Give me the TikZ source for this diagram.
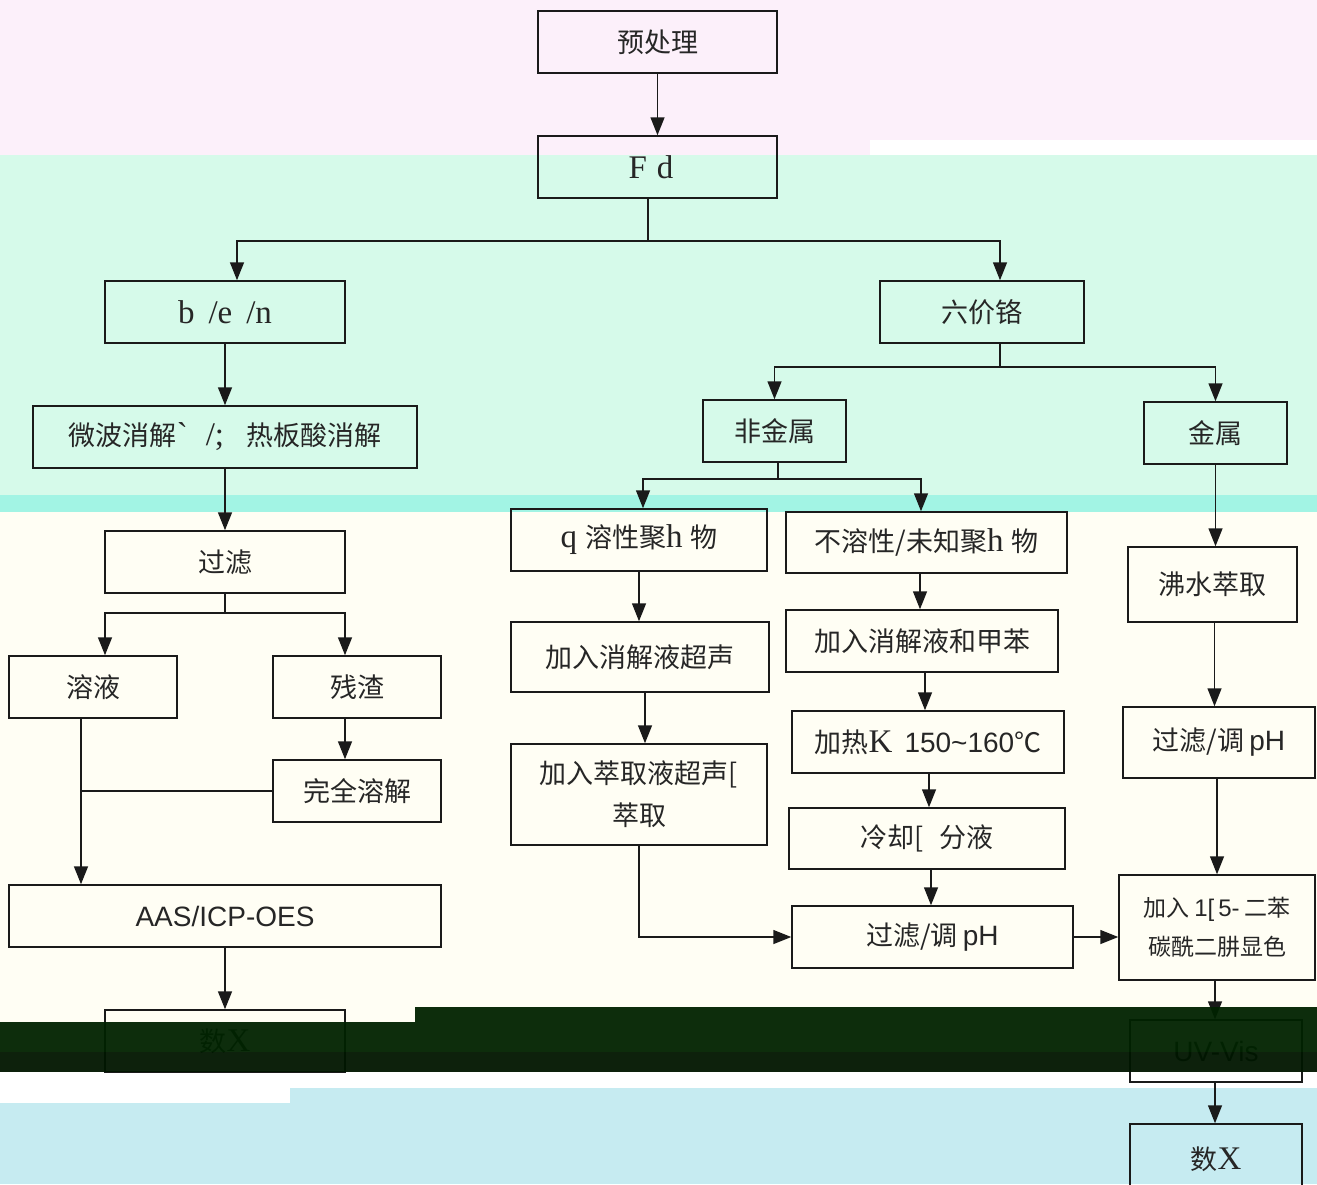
\documentclass[tikz,border=0pt]{standalone}
\usepackage{fontspec}
\setmainfont{Noto Sans CJK SC}
\newfontfamily\tm{Liberation Serif}
\newfontfamily\ar{Liberation Sans}
\newcommand\tmb{\tm\fontsize{33}{42}\selectfont}
\newcommand\arb{\ar\fontsize{28}{42}\selectfont}
\usetikzlibrary{arrows.meta,calc}
\definecolor{linec}{HTML}{1A1A1A}
\definecolor{txtc}{HTML}{262626}
\definecolor{pinkbg}{HTML}{FCF0FA}
\definecolor{mintbg}{HTML}{D6FAEA}
\definecolor{cyanbg}{HTML}{A2F4E4}
\definecolor{creambg}{HTML}{FFFEF4}
\definecolor{bluebg}{HTML}{C6EBF1}
\definecolor{darkbg}{HTML}{002200}
\definecolor{darkbgb}{HTML}{001600}
\begin{document}
\begin{tikzpicture}[x=1pt,y=-1pt,
  box/.style={draw=linec, line width=1.5pt, inner sep=0pt, text=txtc,
    font=\fontsize{27}{42}\selectfont, align=center},
  ln/.style={draw=linec, line width=1.5pt},
  arr/.style={draw=linec, line width=1.5pt, -{Triangle[length=18pt,width=14pt]}}]
\useasboundingbox (0,0) rectangle (1317,1184);
% background bands
\fill[pinkbg] (0,0) rectangle (1317,155);
\fill[white] (870,140) rectangle (1317,155);
\fill[mintbg] (0,155) rectangle (1317,495);
\fill[cyanbg] (0,495) rectangle (1317,512);
\fill[creambg] (0,512) rectangle (1317,1072);
\fill[white] (0,1072) rectangle (1317,1184);
\fill[bluebg] (0,1103) rectangle (290,1184);
\fill[bluebg] (290,1088) rectangle (1317,1184);
% nodes
\node[box, minimum width=239pt, minimum height=62pt] (pre) at (657.5,42) {预处理};
\node[box, minimum width=239pt, minimum height=62pt] (fd) at (657.5,167) {\tmb F\hspace{10pt}d\hspace{13pt}};
\node[box, minimum width=240pt, minimum height=62pt] (ben) at (225,312) {\tmb b\hspace{14pt}/e\hspace{14pt}/n};
\node[box, minimum width=204pt, minimum height=62pt] (liu) at (982,312) {六价铬};
\node[box, minimum width=384pt, minimum height=62pt] (mw) at (225,437) {微波消解{\tmb`}\hspace{18pt}{\tmb/;}\hspace{22pt}热板酸消解};
\node[box, minimum width=240pt, minimum height=62pt] (gl) at (225,562) {过滤};
\node[box, minimum width=168pt, minimum height=62pt] (ry) at (93,687) {溶液};
\node[box, minimum width=168pt, minimum height=62pt] (cz) at (357,687) {残渣};
\node[box, minimum width=168pt, minimum height=62pt] (wq) at (357,791) {完全溶解};
\node[box, minimum width=432pt, minimum height=62pt] (aas) at (225,916) {\arb AAS/ICP-OES};
\node[box, minimum width=240pt, minimum height=62pt] (sxl) at (225,1041) {数{\tmb X}};
\node[box, minimum width=143pt, minimum height=62pt] (fjs) at (774.5,431) {非金属};
\node[box, minimum width=143pt, minimum height=62pt] (js) at (1215.5,433) {金属};
\node[box, minimum width=256pt, minimum height=62pt] (krj) at (639,540) {{\tmb q}\hspace{8pt}溶性聚{\tmb h}\hspace{8pt}物};
\node[box, minimum width=281pt, minimum height=61pt] (brj) at (926.5,542.5) {不溶性/未知聚{\tmb h}\hspace{8pt}物};
\node[box, minimum width=258pt, minimum height=70pt] (jrxj) at (640,657) {加入消解液超声};
\node[box, minimum width=256pt, minimum height=101pt] (jrcq) at (639,794.5) {加入萃取液超声[\\萃取};
\node[box, minimum width=272pt, minimum height=62pt] (jrjb) at (922,641) {加入消解液和甲苯};
\node[box, minimum width=272pt, minimum height=62pt] (jr) at (928,742) {加热{\tmb K}\hspace{12pt}{\arb 150\textasciitilde 160}℃};
\node[box, minimum width=276pt, minimum height=61pt] (lq) at (927,838.5) {冷却[\hspace{16pt}分液};
\node[box, minimum width=281pt, minimum height=62pt] (glm) at (932.5,937) {过滤/调\hspace{5pt}{\arb pH}};
\node[box, minimum width=169pt, minimum height=75pt] (fs) at (1212.5,584.5) {沸水萃取};
\node[box, minimum width=192pt, minimum height=71pt] (glr) at (1219,742.5) {过滤/调\hspace{5pt}{\arb pH}};
\node[box, minimum width=196pt, minimum height=105pt, font=\fontsize{23}{39}\selectfont] (jr15) at (1217,927.5) {加入\hspace{5pt}{\ar\fontsize{24}{39}\selectfont 1[\hspace{4pt}5-}\hspace{5pt}二苯\\碳酰二肼显色};
\node[box, minimum width=172pt, minimum height=62pt] (uv) at (1216,1051) {\arb UV-Vis};
\node[box, minimum width=172pt, minimum height=70pt] (sxr) at (1216,1159) {数{\tmb X}};
% connectors
\draw[arr] (pre) -- (fd);
\draw[ln] ([xshift=-9.5pt]fd.south) -- ++(0,42) coordinate (fdb);
\draw[arr] (fdb) -| ([xshift=12pt]ben.north);
\draw[arr] (fdb) -| ([xshift=18pt]liu.north);
\draw[arr] (ben) -- (mw);
\draw[arr] (mw) -- (gl);
\draw[ln] (gl.south) -- ++(0,19) coordinate (gls);
\draw[arr] (gls) -| ([xshift=12pt]ry.north);
\draw[arr] (gls) -| ([xshift=-12pt]cz.north);
\draw[arr] ([xshift=-12pt]cz.south) -- ([xshift=-12pt]wq.north);
\coordinate (ryb) at ([xshift=-12pt]ry.south);
\draw[arr] (ryb) -- (ryb |- aas.north);
\draw[ln] (wq.west) -- (wq.west -| ryb);
\draw[arr] (aas) -- (sxl);
\draw[ln] ([xshift=18pt]liu.south) -- ++(0,23) coordinate (lj);
\draw[arr] (lj) -| (fjs.north);
\draw[arr] (lj) -| (js.north);
\draw[ln] ([xshift=3.5pt]fjs.south) -- ++(0,16) coordinate (fj);
\draw[arr] (fj) -| ([xshift=4pt]krj.north);
\draw[arr] (fj) -| ([xshift=-5.5pt]brj.north);
\draw[arr] (krj.south) -- (krj.south |- jrxj.north);
\draw[arr] ([xshift=5pt]jrxj.south) -- ([xshift=5pt]jrxj.south |- jrcq.north);
\draw[arr] (jrcq.south) |- (glm.west);
\draw[arr] ([xshift=-6.5pt]brj.south) -- ([xshift=-6.5pt]brj.south |- jrjb.north);
\draw[arr] ([xshift=3pt]jrjb.south) -- ([xshift=3pt]jrjb.south |- jr.north);
\draw[arr] ([xshift=1pt]jr.south) -- ([xshift=1pt]jr.south |- lq.north);
\draw[arr] ([xshift=4pt]lq.south) -- ([xshift=4pt]lq.south |- glm.north);
\draw[arr] (glm.east) -- (glm.east -| jr15.west);
\draw[arr] (js.south) -- (js.south |- fs.north);
\draw[arr] ([xshift=2pt]fs.south) -- ([xshift=2pt]fs.south |- glr.north);
\draw[arr] ([xshift=-2pt]glr.south) -- ([xshift=-2pt]glr.south |- jr15.north);
\draw[arr] ([xshift=-2pt]jr15.south) -- ([xshift=-2pt]jr15.south |- uv.north);
\draw[arr] ([xshift=-1pt]uv.south) -- ([xshift=-1pt]uv.south |- sxr.north);
% dark band over the lower boxes
\fill[darkbg, opacity=0.95] (0,1022) rectangle (415,1052);
\fill[darkbg, opacity=0.95] (415,1007) rectangle (1317,1052);
\fill[darkbgb, opacity=0.95] (0,1052) rectangle (1317,1072);
\end{tikzpicture}
\end{document}
